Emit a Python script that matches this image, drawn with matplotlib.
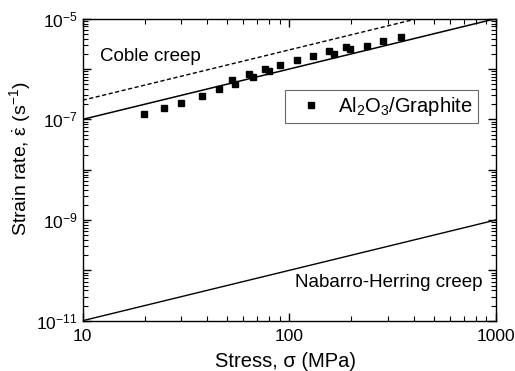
import matplotlib
matplotlib.use('Agg')
import matplotlib.pyplot as plt
import matplotlib.ticker as mticker
import numpy as np

plt.rcParams['font.family'] = ['Liberation Sans', 'DejaVu Sans']
plt.rcParams['mathtext.fontset'] = 'custom'
plt.rcParams['mathtext.rm'] = 'Liberation Sans'
plt.rcParams['mathtext.it'] = 'Liberation Sans:italic'
plt.rcParams['mathtext.bf'] = 'Liberation Sans:bold'

# Measured Al2O3/Graphite creep data
stress = [19.8, 24.8, 29.8, 37.7, 45.6, 52.9, 54.8, 63.7, 66.8, 76.2, 79.8,
          90.2, 109.4, 130.8, 156.3, 164.8, 188.4, 197.7, 237, 285.7, 347.5]
strain_rate = [1.27e-7, 1.70e-7, 2.11e-7, 2.94e-7, 4.0e-7, 6.1e-7, 5.0e-7,
               7.96e-7, 6.84e-7, 1.01e-6, 9.25e-7, 1.20e-6, 1.53e-6, 1.84e-6,
               2.28e-6, 2.01e-6, 2.77e-6, 2.47e-6, 2.86e-6, 3.56e-6, 4.27e-6]

# Model lines (stress exponent n = 1), end points
line_stress = [10, 1000]
fit_rate = [1e-7, 1e-5]
coble_rate = [2.4e-7, 2.4e-5]
nh_rate = [1e-11, 1e-9]

fig = plt.figure(figsize=(5.15, 3.71), dpi=100)
ax = fig.add_axes([0.1606, 0.1356, 0.8019, 0.814])

ax.plot(line_stress, fit_rate, color='black', lw=1.1)
ax.plot(line_stress, coble_rate, color='black', lw=1.0, ls=(0, (3, 1.8)))
ax.plot(line_stress, nh_rate, color='black', lw=1.0)
ax.plot(stress, strain_rate, 's', color='black', ms=5, ls='none',
        label=r'Al$_2$O$_3$/Graphite ')

ax.set_xscale('log')
ax.set_yscale('log')
ax.set_xlim(10, 1000)
ax.set_ylim(1e-11, 1e-5)

exps = list(range(-11, -4))
ax.yaxis.set_major_locator(mticker.FixedLocator([10.0 ** e for e in exps]))
ax.yaxis.set_major_formatter(mticker.FixedFormatter(
    [r'$10^{%d}$' % e if e % 2 == 1 else '' for e in exps]))
ax.yaxis.set_minor_locator(mticker.FixedLocator(
    [m * 10.0 ** e for e in exps[:-1] for m in range(2, 10)]))
ax.yaxis.set_minor_formatter(mticker.NullFormatter())

ax.xaxis.set_major_locator(mticker.FixedLocator([10, 100, 1000]))
ax.xaxis.set_major_formatter(mticker.FixedFormatter(['10', '100', '1000']))
ax.xaxis.set_minor_locator(mticker.FixedLocator(
    [m * 10.0 ** e for e in (1, 2) for m in range(2, 10)]))
ax.xaxis.set_minor_formatter(mticker.NullFormatter())

ax.tick_params(which='both', direction='in', top=True, right=True, labelsize=12.5)
ax.tick_params(which='major', length=5.5, width=1.0)
ax.tick_params(which='minor', length=3.5, width=0.8)
ax.tick_params(axis='x', pad=6)
for s in ax.spines.values():
    s.set_linewidth(1.0)

ax.set_xlabel('Stress, σ (MPa)', fontsize=14.5)
ax.set_ylabel(r'Strain rate, $\dot{\mathrm{\varepsilon}}$ (s$^{-1}$)', fontsize=14)
ax.xaxis.set_label_coords(0.49, -0.105)
ax.yaxis.set_label_coords(-0.12, 0.537)

ax.text(12.1, 1.74e-6, 'Coble creep', fontsize=13.5, ha='left', va='center')
ax.text(868, 5.8e-11, 'Nabarro-Herring creep', fontsize=13.5, ha='right', va='center')

leg = ax.legend(loc='upper left', bbox_to_anchor=(0.49, 0.764), fontsize=14.5,
                frameon=True, fancybox=False, edgecolor='#444444',
                handletextpad=0.25, borderpad=0.26, borderaxespad=0,
                handlelength=2.1)
leg.get_frame().set_linewidth(0.8)

fig.savefig('out.png', dpi=100, facecolor='white')
